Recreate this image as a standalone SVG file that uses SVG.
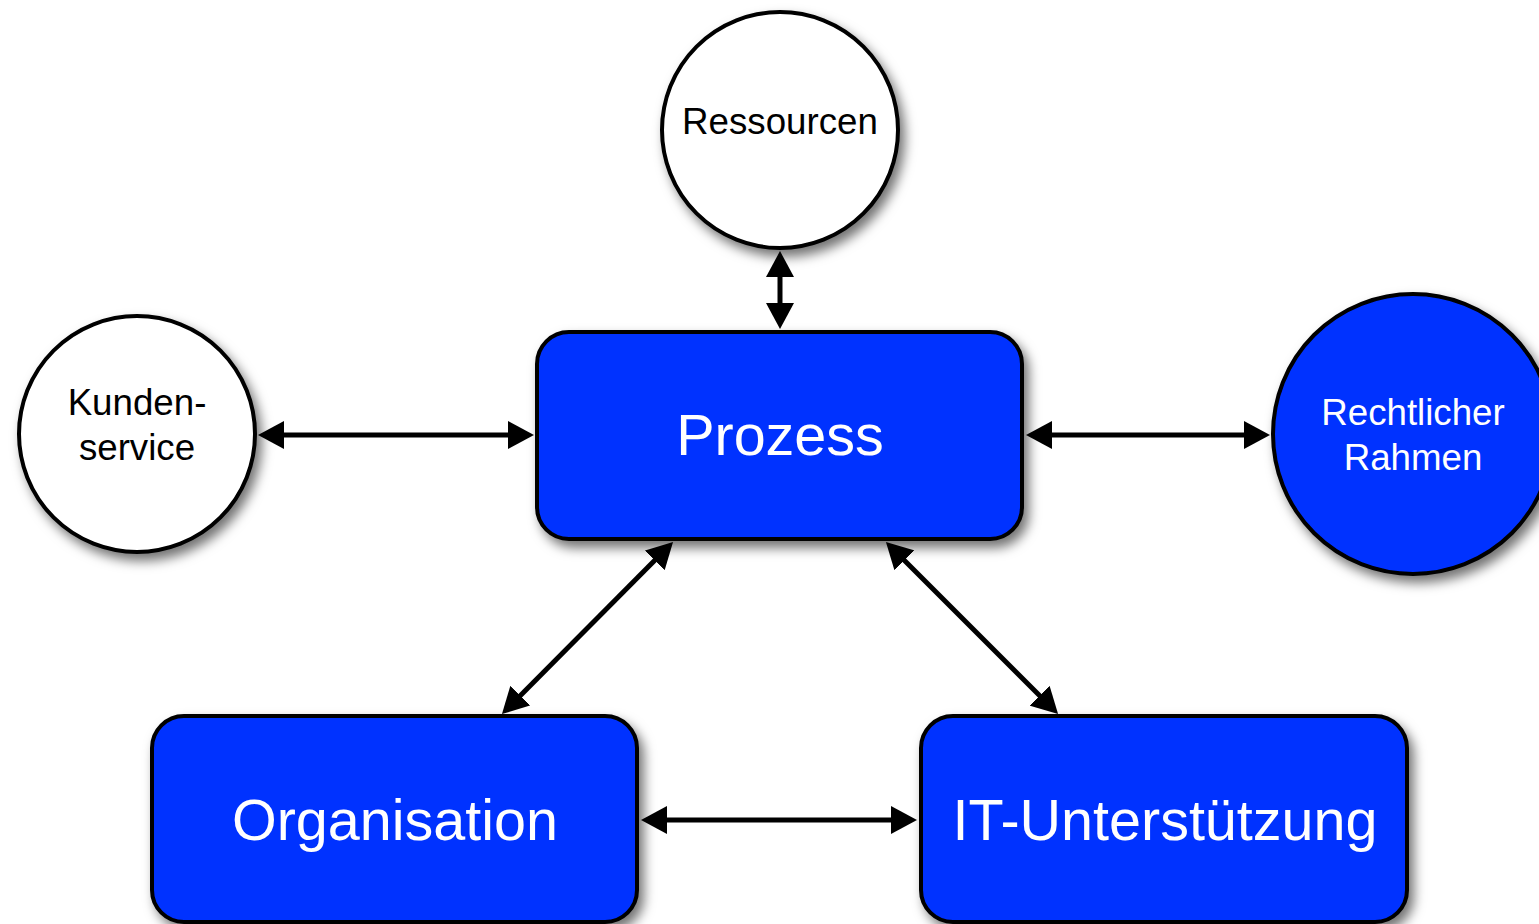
<svg xmlns="http://www.w3.org/2000/svg" width="1539" height="924" viewBox="0 0 1539 924">
<defs>
<filter id="sh" x="-20%" y="-20%" width="150%" height="150%">
<feDropShadow dx="5" dy="7" stdDeviation="6" flood-color="#000" flood-opacity="0.55"/>
</filter>
<marker id="ah" viewBox="0 0 26 28" refX="16" refY="14" markerWidth="26" markerHeight="28" markerUnits="userSpaceOnUse" orient="auto-start-reverse">
<path d="M0,0 L26,14 L0,28 z" fill="#000"/>
</marker>
<style>
.white{fill:#fff;stroke:#000;stroke-width:4}
.blue{fill:#0433ff;stroke:#000;stroke-width:4}
.t{font-family:"Liberation Sans",Arial,sans-serif;text-anchor:middle}
.tb{fill:#000;font-size:36.7px}
.tw{fill:#fff;font-size:36.7px}
.tl{fill:#fff;font-size:57.5px}
.c{stroke:#000;stroke-width:5;fill:none;marker-start:url(#ah);marker-end:url(#ah)}
</style>
</defs>
<rect width="1539" height="924" fill="#fff"/>
<g id="ressourcen">
<circle class="white" cx="780" cy="130" r="118" filter="url(#sh)"/>
<text class="t tb" x="780" y="134">Ressourcen</text>
</g>
<g id="kundenservice">
<circle class="white" cx="137" cy="434" r="118" filter="url(#sh)"/>
<text class="t tb" x="137" y="415">Kunden-</text>
<text class="t tb" x="137" y="460">service</text>
</g>
<g id="rechtlicher">
<circle class="blue" cx="1413" cy="434" r="140" filter="url(#sh)"/>
<text class="t tw" x="1413" y="425">Rechtlicher</text>
<text class="t tw" x="1413" y="470">Rahmen</text>
</g>
<g id="prozess">
<rect class="blue" x="537" y="332" width="485" height="207" rx="32" filter="url(#sh)"/>
<text class="t tl" x="780" y="455">Prozess</text>
</g>
<g id="organisation">
<rect class="blue" x="152" y="716" width="485" height="206" rx="32" filter="url(#sh)"/>
<text class="t tl" x="395" y="840">Organisation</text>
</g>
<g id="it">
<rect class="blue" x="921" y="716" width="486" height="206" rx="32" filter="url(#sh)"/>
<text class="t tl" x="1165" y="840">IT-Unterstützung</text>
</g>
<g id="connectors">
<path class="c" d="M780,261 L780,319"/>
<path class="c" d="M268,435 L524,435"/>
<path class="c" d="M1036,435 L1260,435"/>
<path class="c" d="M651,820 L907,820"/>
<path class="c" d="M666,549 L509,707"/>
<path class="c" d="M893,549 L1051,707"/>
</g>
</svg>
